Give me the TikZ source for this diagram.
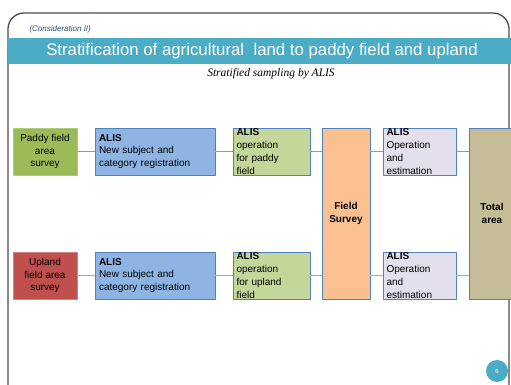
\documentclass[tikz,border=0pt]{standalone}
\usepackage{fontspec}
\setmainfont{Liberation Sans}
\newfontfamily\timesfont{Liberation Serif}
\usetikzlibrary{positioning}

\definecolor{bandteal}{HTML}{4BACC6}
\definecolor{paddygreen}{HTML}{9BBB59}
\definecolor{uplandred}{HTML}{C0504D}
\definecolor{alisblue}{HTML}{8DB4E2}
\definecolor{oplime}{HTML}{C4D79B}
\definecolor{surveyorange}{HTML}{FAC090}
\definecolor{estlilac}{HTML}{E4DFEC}
\definecolor{totalkhaki}{HTML}{C4BD97}
\definecolor{edgeblue}{HTML}{4F81BD}
\definecolor{linkgreen}{HTML}{8EA86A}
\definecolor{linkred}{HTML}{D99694}

\begin{document}
\begin{tikzpicture}[x=1pt, y=-1pt, line join = round,
    box/.style={draw=edgeblue, line width=0.9pt, inner sep=0pt, minimum height=47pt,
        font=\fontsize{10}{12.8}\selectfont},
    alisbox/.style={box, align=left, text width=#1},
    link/.style={line width=1.6pt}]

    \useasboundingbox (0,0) rectangle (511,385);

    % slide frame
    \draw[line width=1.3pt, draw=black!70, rounded corners=16pt]
        (8,400) -- (8,13) -- (509,13) -- (509,400);
    \node[anchor=west, text=edgeblue!60!black, font=\itshape\fontsize{8}{9}\selectfont]
        (consid) at (26,29) {(Consideration II)};
    \fill[bandteal] (8,38) rectangle (511,64);
    \node[text=white, font=\fontsize{16.8}{18}\selectfont] (title) at (262,51)
        {Stratification of agricultural\ \ land to paddy field and upland};
    \node[font=\timesfont\itshape\fontsize{11.5}{13}\selectfont] (sub) at (271,74)
        {Stratified sampling by ALIS};

    % paddy field row
    \node[box, fill=paddygreen, draw=paddygreen!80!white, minimum width=64pt, align=center]
        (paddy) at (45,151.5) {Paddy field\\area\\survey};
    \node[alisbox=112pt, fill=alisblue, minimum width=120pt] (regp) at (155,151.5)
        {\textbf{ALIS}\\New subject and\\category registration};
    \node[alisbox=70pt, fill=oplime, minimum width=77pt] (opp) at (271.5,151.5)
        {\textbf{ALIS}\\operation\\for paddy\\field};
    \node[alisbox=66pt, fill=estlilac, minimum width=73pt] (estp) at (419.5,151.5)
        {\textbf{ALIS}\\Operation\\and\\estimation};

    % upland row
    \node[box, fill=uplandred, draw=uplandred!70!white, minimum width=64pt, align=center]
        (upland) at (45,275.5) {Upland\\field area\\survey};
    \node[alisbox=112pt, fill=alisblue, minimum width=120pt] (regu) at (155,275.5)
        {\textbf{ALIS}\\New subject and\\category registration};
    \node[alisbox=70pt, fill=oplime, minimum width=77pt] (opu) at (271.5,275.5)
        {\textbf{ALIS}\\operation\\for upland\\field};
    \node[alisbox=66pt, fill=estlilac, minimum width=73pt] (estu) at (419.5,275.5)
        {\textbf{ALIS}\\Operation\\and\\estimation};

    % shared columns
    \node[box, fill=surveyorange, minimum width=48pt, minimum height=171pt, align=center,
        font=\bfseries\fontsize{10}{13}\selectfont] (field) at (346,213.5) {Field\\Survey};
    \node[box, fill=totalkhaki, minimum width=46pt, minimum height=171pt, align=center,
        font=\bfseries\fontsize{10}{13}\selectfont] (total) at (492,213.5) {Total\\area};

    % connectors
    \begin{scope}[link, color=linkgreen]
        \draw (paddy) -- (regp);
        \draw (regp) -- (opp);
        \draw (opp.east) -- (opp.east -| field.west);
        \draw (estp.west -| field.east) -- (estp.west);
        \draw (estp.east) -- (estp.east -| total.west);
    \end{scope}
    \begin{scope}[link, color=linkred]
        \draw (upland) -- (regu);
        \draw (regu) -- (opu);
        \draw (opu.east) -- (opu.east -| field.west);
        \draw (estu.west -| field.east) -- (estu.west);
        \draw (estu.east) -- (estu.east -| total.west);
    \end{scope}

    % page number
    \node[circle, fill=bandteal, minimum size=22pt, inner sep=0pt, text=white,
        font=\fontsize{6}{7}\selectfont] (page) at (497,371) {6};

\end{tikzpicture}
\end{document}
